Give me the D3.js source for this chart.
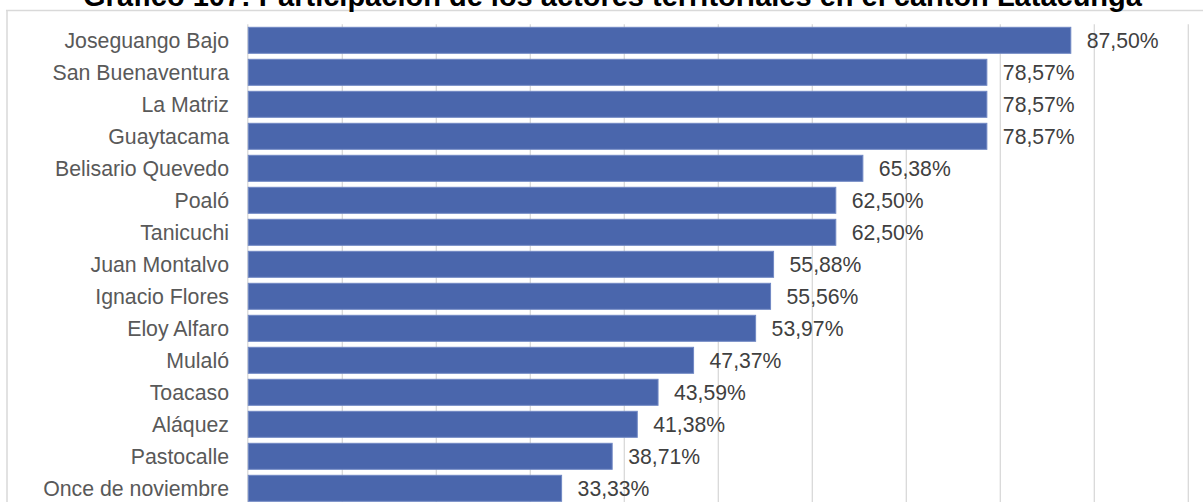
<!DOCTYPE html>
<html>
<head>
<meta charset="utf-8">
<script src="https://cdn.jsdelivr.net/npm/d3@7"></script>
<style>
  html, body { margin: 0; padding: 0; background: #fff; }
  svg { display: block; }
  text { font-family: "Liberation Sans", Arial, sans-serif; }
</style>
</head>
<body>
<svg id="chart" width="1203" height="502"></svg>
<script>
const title = "Gráfico 107: Participación de los actores territoriales en el cantón Latacunga";
const categories = ["Joseguango Bajo", "San Buenaventura", "La Matriz", "Guaytacama", "Belisario Quevedo", "Poaló", "Tanicuchi", "Juan Montalvo", "Ignacio Flores", "Eloy Alfaro", "Mulaló", "Toacaso", "Aláquez", "Pastocalle", "Once de noviembre"];
const values = [0.8750, 0.7857, 0.7857, 0.7857, 0.6538, 0.6250, 0.6250, 0.5588, 0.5556, 0.5397, 0.4737, 0.4359, 0.4138, 0.3871, 0.3333];
const xTicks = [0, 0.1, 0.2, 0.3, 0.4, 0.5, 0.6, 0.7, 0.8, 0.9, 1.0];

const svg = d3.select("#chart");
const W = 1203, H = 502;

const plot = { left: 248.3, right: 1188.3, top: 24.3, bottom: 504.3 };

const x = d3.scaleLinear().domain([0, 1]).range([plot.left, plot.right]);
const y = d3.scaleBand().domain(categories).range([plot.top, plot.bottom])
  .paddingInner(6 / 32).paddingOuter(3 / 32);

const locale = d3.formatLocale({ decimal: ",", thousands: ".", grouping: [3], currency: ["$", ""] });
const fmt = locale.format(".2%");

// outer frame lines (chart area border, cropped)
svg.append("line").attr("x1", 6).attr("x2", W).attr("y1", 10.5).attr("y2", 10.5)
  .attr("stroke", "#d9d9d9").attr("stroke-width", 1.5);
svg.append("line").attr("x1", 7).attr("x2", 7).attr("y1", 10).attr("y2", H)
  .attr("stroke", "#d9d9d9").attr("stroke-width", 1.5);

// title (partially cut off at the top)
svg.append("text").attr("x", 612.5).attr("y", 5.5).attr("text-anchor", "middle")
  .attr("font-size", 29).attr("font-weight", "bold").attr("fill", "#000").text(title);

// gridlines
svg.append("g").selectAll("line").data(xTicks.slice(1)).join("line")
  .attr("x1", d => x(d)).attr("x2", d => x(d))
  .attr("y1", plot.top).attr("y2", H + 5)
  .attr("stroke", "#d9d9d9").attr("stroke-width", 1.3);

// category axis line
svg.append("line").attr("x1", x(0) - 0.5).attr("x2", x(0) - 0.5)
  .attr("y1", plot.top).attr("y2", H + 5)
  .attr("stroke", "#d9d9d9").attr("stroke-width", 1.3);

// bars
svg.append("g").selectAll("rect").data(categories).join("rect")
  .attr("x", x(0))
  .attr("y", d => y(d))
  .attr("width", (d, i) => x(values[i]) - x(0))
  .attr("height", y.bandwidth())
  .attr("fill", "#4a66ac")
  .attr("stroke", "#7088c4").attr("stroke-width", 1);

// category labels
svg.append("g").selectAll("text").data(categories).join("text")
  .attr("x", 229)
  .attr("y", d => y(d) + y.bandwidth() / 2)
  .attr("dy", "0.35em")
  .attr("text-anchor", "end")
  .attr("font-size", 21.3)
  .attr("fill", "#595959")
  .text(d => d);

// value labels
svg.append("g").selectAll("text").data(categories).join("text")
  .attr("x", (d, i) => x(values[i]) + 16)
  .attr("y", d => y(d) + y.bandwidth() / 2)
  .attr("dy", "0.38em")
  .attr("font-size", 21.2)
  .attr("fill", "#404040")
  .text((d, i) => fmt(values[i]));
</script>
</body>
</html>
